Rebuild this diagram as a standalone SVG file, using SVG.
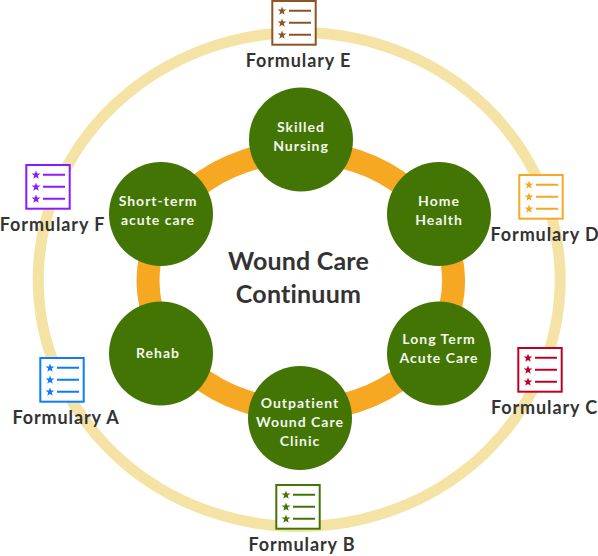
<svg xmlns="http://www.w3.org/2000/svg" width="598" height="556" viewBox="0 0 598 556">
<style>
.n{fill:#437505}
.nt{font-family:"Lato","Open Sans",sans-serif;font-size:14px;font-weight:700;letter-spacing:1px;fill:#f4f7ee;text-anchor:middle}
.l{font-family:"Lato","Open Sans",sans-serif;font-size:18px;font-weight:700;letter-spacing:.9px;fill:#333;text-anchor:middle}
.t{font-family:"Lato","Open Sans",sans-serif;font-size:25px;font-weight:700;letter-spacing:.2px;fill:#333;text-anchor:middle}
.ib{fill:#fff;stroke:currentColor;stroke-width:2}
.il{stroke:currentColor;stroke-width:2;fill:none}
.is{fill:currentColor}
</style>
<defs>
<polygon id="star" class="is" points="0,-4.6 1.1,-1.5 4.4,-1.4 1.8,.6 2.7,3.7 0,1.9 -2.7,3.7 -1.8,.6 -4.4,-1.4 -1.1,-1.5"/>
<symbol id="doc" overflow="visible">
<rect class="ib" x="1.300" y="1" width="43.400" height="43.700"/>
<use href="#star" x="11" y="11"/>
<use href="#star" x="11" y="23"/>
<use href="#star" x="11" y="35"/>
<path class="il" d="M18 10.700H40M18 22.700H40M18 34.700H40"/>
</symbol>
</defs>
<g id="connectors" fill="none">
<ellipse cx="299.200" cy="279.500" rx="261" ry="247" stroke="#f5e3a6" stroke-width="11"/>
<ellipse cx="300.800" cy="281" rx="152.800" ry="129" stroke="#f7a823" stroke-width="23"/>
</g>
<g id="node-skilled"><circle class="n" cx="301" cy="139.500" r="52"/><text class="nt" x="301" y="132">Skilled</text><text class="nt" x="301" y="151">Nursing</text></g>
<g id="node-home"><circle class="n" cx="439" cy="214" r="52"/><text class="nt" x="439" y="206">Home</text><text class="nt" x="439" y="225">Health</text></g>
<g id="node-ltac"><circle class="n" cx="439" cy="353.500" r="52"/><text class="nt" x="439" y="344">Long Term</text><text class="nt" x="439" y="363">Acute Care</text></g>
<g id="node-outpatient"><circle class="n" cx="300" cy="418" r="52"/><text class="nt" x="300" y="408">Outpatient</text><text class="nt" x="300" y="427">Wound Care</text><text class="nt" x="300" y="446">Clinic</text></g>
<g id="node-rehab"><circle class="n" cx="161" cy="353.500" r="52"/><text class="nt" x="158" y="358">Rehab</text></g>
<g id="node-short"><circle class="n" cx="161" cy="214" r="52"/><text class="nt" x="158" y="206">Short-term</text><text class="nt" x="158" y="225">acute care</text></g>
<g id="title"><text class="t" x="298.500" y="269.500">Wound Care</text><text class="t" x="298.500" y="303">Continuum</text></g>
<g id="formulary-e" color="#8c5523"><use href="#doc" x="271" y="0"/><text class="l" x="298.500" y="66.500">Formulary E</text></g>
<g id="formulary-f" color="#8a19ff"><use href="#doc" x="25" y="164"/><text class="l" x="52.500" y="230.500">Formulary F</text></g>
<g id="formulary-d" color="#f7a823"><use href="#doc" x="518" y="174"/><text class="l" x="545" y="240.500">Formulary D</text></g>
<g id="formulary-c" color="#c00020"><use href="#doc" x="517" y="347"/><text class="l" x="544.500" y="413.500">Formulary C</text></g>
<g id="formulary-a" color="#0a7cff"><use href="#doc" x="39" y="357"/><text class="l" x="66" y="423.500">Formulary A</text></g>
<g id="formulary-b" color="#437505"><use href="#doc" x="275" y="484"/><text class="l" x="302" y="550.500">Formulary B</text></g>
</svg>
